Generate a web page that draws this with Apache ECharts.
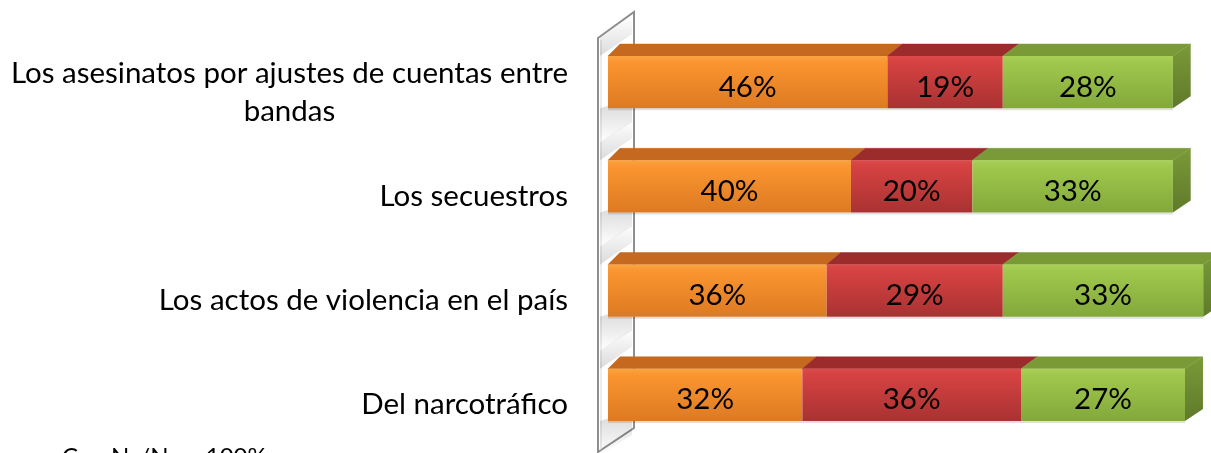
<!DOCTYPE html>
<html>
<head>
<meta charset="utf-8">
<script src="https://cdn.jsdelivr.net/npm/echarts@6/dist/echarts.min.js"></script>
<style>html,body{margin:0;padding:0;background:#fff;}#c{width:1211px;height:453px;}</style>
</head>
<body>
<div id="c"></div>
<script>
// ---- data ----
const categories = ['Los asesinatos por ajustes de cuentas entre\nbandas', 'Los secuestros', 'Los actos de violencia en el país', 'Del narcotráfico'];
const serie1 = [46, 40, 36, 32];
const serie2 = [19, 20, 29, 36];
const serie3 = [28, 33, 33, 27];
const footnote = 'Con Ns/Nc = 100%';

const FONT = 'Lato, "Open Sans", sans-serif';
const seriesValues = [serie1, serie2, serie3];
const styles = [
  { front: ['#F9A443', '#FB9530', '#DD7A22'], top: '#C4691F', side: '#A9581A' },
  { front: ['#DC4A4A', '#D64242', '#A93232'], top: '#9C2B2B', side: '#842424' },
  { front: ['#AAD058', '#A0C84C', '#82A83B'], top: '#7A9A38', side: '#5F7A2A' }
];

// stacked starts
const starts = seriesValues.map(() => []);
categories.forEach((c, j) => {
  let acc = 0;
  seriesValues.forEach((vals, i) => { starts[i][j] = acc; acc += vals[j]; });
});

function measure(text, font) {
  const ctx = document.createElement('canvas').getContext('2d');
  ctx.font = font;
  return ctx.measureText(text).width;
}
const LABEL_SIZE = 29.5;

function makeRender(si) {
  const st = styles[si];
  const last = si === seriesValues.length - 1;
  return function (params, api) {
    const cat = api.value(1);
    const v = api.value(0);
    const s = api.value(2);
    const e = api.value(3);
    const base = api.coord([0, cat]);
    const p1 = api.coord([s, cat]);
    const p2 = api.coord([e, cat]);
    const h = api.size([0, 1])[1] * 0.5;
    const yTop = p1[1] - h / 2, yBot = p1[1] + h / 2;
    const x1 = p1[0], x2 = p2[0];
    const dy = 12;
    const dx = x => 12 + (x - base[0]) * 6 / 580;
    const children = [];
    if (si === 0) {
      // soft shadows on the side wall
      children.push({
        type: 'polygon', shape: { points: [[base[0] - 8, yBot], [base[0] + 24, yBot - 10], [base[0] + 24, yBot + 14], [base[0] - 8, yBot + 34]] },
        style: { fill: new echarts.graphic.LinearGradient(0, 0, 0, 1, [
          { offset: 0, color: 'rgba(0,0,0,0.16)' }, { offset: 1, color: 'rgba(0,0,0,0)' }]) },
        z2: -2
      });
      children.push({
        type: 'polygon', shape: { points: [[base[0] - 8, yTop], [base[0] + 24, yTop - 22], [base[0] + 24, yTop - 40], [base[0] - 8, yTop - 18]] },
        style: { fill: new echarts.graphic.LinearGradient(0, 1, 0, 0, [
          { offset: 0, color: 'rgba(0,0,0,0.14)' }, { offset: 1, color: 'rgba(0,0,0,0)' }]) },
        z2: -2
      });
    }
    // shadow line under the bar
    children.push({
      type: 'rect', shape: { x: x1, y: yBot, width: x2 - x1, height: 2 },
      style: { fill: 'rgba(0,0,0,0.12)' }
    });
    // top face
    children.push({
      type: 'polygon',
      shape: { points: [[x1, yTop], [x2, yTop], [x2 + dx(x2), yTop - dy], [x1 + dx(x1), yTop - dy]] },
      style: { fill: st.top, stroke: st.top, lineWidth: 0.5 }
    });
    // front face
    children.push({
      type: 'rect', shape: { x: x1, y: yTop, width: x2 - x1, height: yBot - yTop },
      style: { fill: new echarts.graphic.LinearGradient(0, 0, 0, 1, [
        { offset: 0, color: st.front[0] }, { offset: 0.12, color: st.front[1] }, { offset: 1, color: st.front[2] }]) }
    });
    if (last) {
      const d = dx(x2);
      children.push({
        type: 'polygon',
        shape: { points: [[x2, yTop], [x2 + d, yTop - dy], [x2 + d, yBot - dy], [x2, yBot]] },
        style: { fill: new echarts.graphic.LinearGradient(0, 0, 0, 1, [
          { offset: 0, color: st.top }, { offset: 1, color: st.side }]) }
      });
    }
    children.push({
      type: 'text',
      style: { text: v + '%', x: (x1 + x2) / 2, y: (yTop + yBot) / 2 + 5, align: 'center', verticalAlign: 'middle',
        font: LABEL_SIZE + 'px ' + FONT, fill: '#000' }
    });
    return { type: 'group', children };
  };
}

const chart = echarts.init(document.getElementById('c'), null, { renderer: 'canvas' });

const GL = 608;
const firstLineWidth = measure(categories[0].split('\n')[0], LABEL_SIZE + 'px ' + FONT);
const option = {
  animation: false,
  backgroundColor: '#fff',
  grid: { left: GL, right: 26, top: 30, bottom: 6, containLabel: false, outerBoundsMode: 'none' },
  xAxis: { type: 'value', min: 0, max: 95, show: false },
  yAxis: {
    type: 'category', data: categories, inverse: true,
    axisLine: { show: false }, axisTick: { show: false }, splitLine: { show: false },
    axisLabel: {
      margin: 40, align: 'right', color: '#000', fontSize: LABEL_SIZE, fontFamily: FONT,
      lineHeight: 38, padding: [20, 0, 0, 0],
      formatter: function (val) {
        const lines = val.split('\n');
        if (lines.length === 1) return val;
        return lines.map(l => '{c|' + l + '}').join('\n');
      },
      rich: {
        c: { fontSize: LABEL_SIZE, fontFamily: FONT, color: '#000', lineHeight: 38, align: 'center', width: firstLineWidth }
      }
    }
  },
  graphic: [
    {
      type: 'polygon', z: 0,
      shape: { points: [[598, 38], [634, 12], [634, 428], [598, 452]] },
      style: { fill: '#fff', stroke: '#8E8E8E', lineWidth: 2 }
    },
    {
      type: 'line', z: 0,
      shape: { x1: 601, y1: 40, x2: 601, y2: 450 },
      style: { stroke: '#D8D8D8', lineWidth: 1 }
    },
    {
      type: 'text', z: 10, left: 62, top: 445,
      style: { text: footnote, font: '24px ' + FONT, fill: '#000' }
    }
  ],
  series: seriesValues.map((vals, i) => ({
    type: 'custom',
    name: 'Serie ' + (i + 1),
    renderItem: makeRender(i),
    encode: { x: [2, 3], y: 1 },
    clip: false,
    z: 2,
    data: vals.map((v, j) => [v, j, starts[i][j], starts[i][j] + v])
  }))
};
chart.setOption(option);
</script>
</body>
</html>
